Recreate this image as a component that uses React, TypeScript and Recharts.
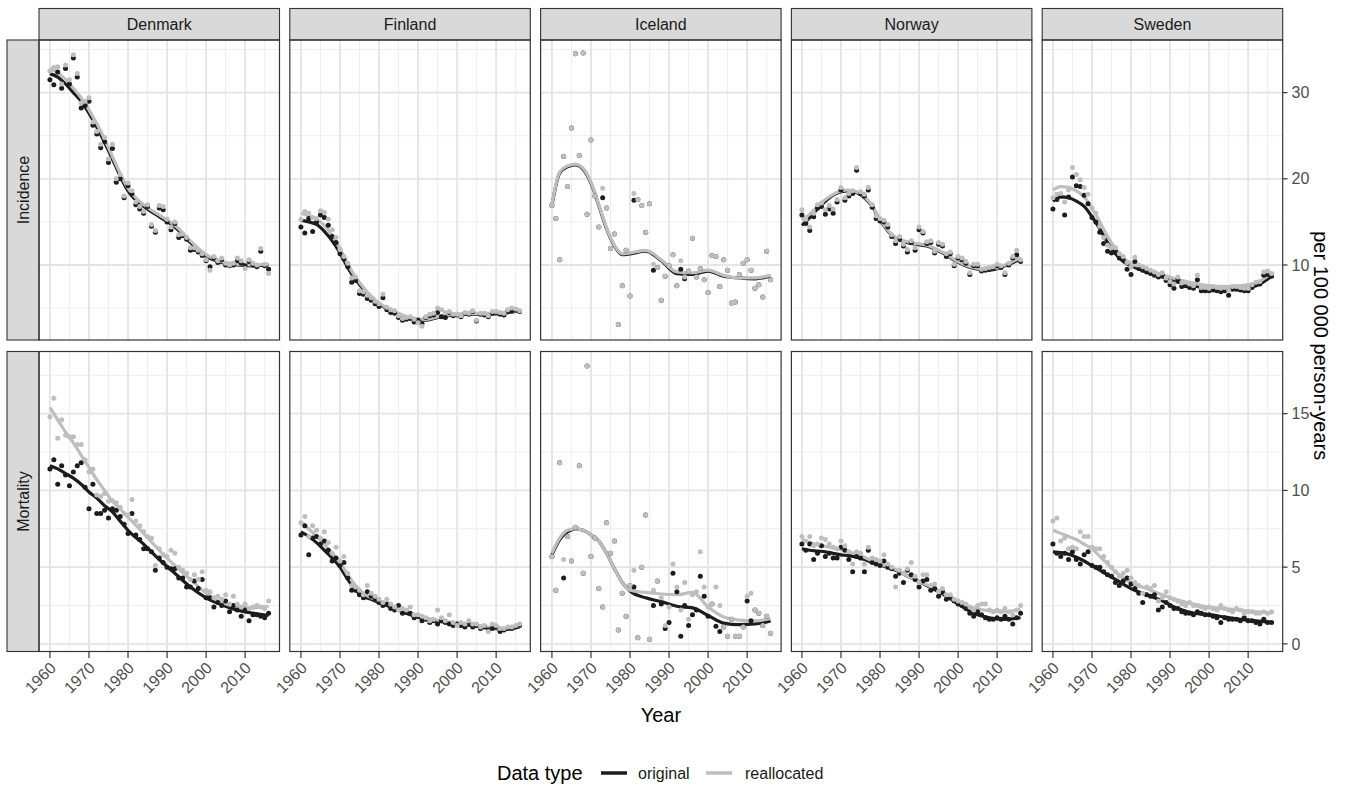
import React from 'react';
import { ComposedChart, Scatter, Line, XAxis, YAxis, ReferenceLine } from 'recharts';

// ---------- categories / ticks ----------
const years: number[] = Array.from({ length: 57 }, (_, i) => 1960 + i);
const smoothYears = [1960, 1962, 1964, 1966, 1968, 1970, 1972, 1974, 1976, 1978, 1980, 1984, 1988, 1992, 1996, 2000, 2004, 2008, 2012, 2016];
const countries = ['Denmark', 'Finland', 'Iceland', 'Norway', 'Sweden'];
const measures = ['Incidence', 'Mortality'];
const xMajorTicks = [1960, 1970, 1980, 1990, 2000, 2010];
const xMinorTicks = [1965, 1975, 1985, 1995, 2005, 2015];
const incTicks = [10, 20, 30];
const incMinor = [5, 15, 25, 35];
const mortTicks = [0, 5, 10, 15];
const mortMinor = [2.5, 7.5, 12.5, 17.5];
const legendLabels = ['original', 'reallocated'];

// ---------- Denmark ----------
const denmarkIncOrig = [31.5, 30.9, 32.4, 30.5, 32.8, 31.0, 34.0, 31.8, 28.2, 28.5, 29.0, 26.2, 25.2, 23.6, 24.3, 21.9, 23.5, 19.6, 20.0, 17.8, 19.2, 18.3, 17.0, 16.5, 16.0, 16.8, 14.5, 13.8, 16.6, 16.4, 15.0, 14.1, 14.8, 13.2, 13.4, 13.0, 11.7, 11.8, 11.5, 11.1, 10.5, 9.8, 10.8, 10.3, 10.6, 10.0, 9.9, 10.0, 10.5, 10.2, 9.9, 10.4, 10.0, 9.8, 11.6, 9.9, 9.5];
const denmarkIncRealloc = [32.5, 32.9, 33.0, 31.0, 33.2, 31.5, 34.4, 32.2, 28.8, 29.0, 29.4, 26.6, 25.5, 24.0, 24.8, 22.3, 24.0, 20.0, 20.5, 18.0, 19.5, 18.6, 17.3, 16.8, 16.2, 17.0, 14.7, 14.0, 16.9, 16.8, 15.3, 14.4, 15.0, 13.5, 13.6, 13.2, 12.0, 12.0, 11.7, 11.3, 10.6, 9.4, 11.0, 10.5, 10.8, 10.2, 10.0, 10.2, 10.8, 10.5, 9.6, 10.6, 10.2, 10.0, 11.9, 10.1, 9.0];
const denmarkIncSmoothOrig = [32.2, 31.8, 31.0, 30.0, 29.0, 27.6, 26.0, 24.2, 22.3, 20.3, 18.6, 16.8, 15.6, 14.4, 12.6, 11.0, 10.3, 10.0, 9.9, 10.0];
const denmarkIncSmoothRealloc = [32.8, 32.3, 31.5, 30.5, 29.4, 28.0, 26.4, 24.6, 22.6, 20.6, 18.9, 17.0, 15.8, 14.6, 12.8, 11.2, 10.4, 10.1, 10.0, 10.1];
const denmarkMortOrig = [11.4, 12.0, 10.4, 11.6, 11.0, 10.3, 11.2, 11.6, 11.8, 10.2, 8.8, 10.4, 8.5, 8.5, 8.7, 8.2, 8.8, 8.7, 8.3, 7.8, 7.2, 8.5, 7.1, 6.8, 6.2, 6.2, 6.0, 4.8, 5.6, 5.3, 5.0, 4.9, 4.9, 4.3, 4.3, 3.7, 3.7, 4.1, 3.6, 4.2, 3.0, 3.0, 2.4, 2.7, 2.5, 2.8, 2.1, 2.5, 2.2, 1.8, 2.2, 1.5, 1.9, 1.9, 1.8, 1.7, 2.0];
const denmarkMortRealloc = [14.8, 16.0, 13.4, 14.6, 13.6, 13.5, 13.5, 13.0, 13.0, 12.0, 11.2, 11.4, 9.7, 9.6, 9.8, 9.3, 9.35, 9.2, 8.9, 8.5, 8.4, 9.4, 8.0, 7.7, 7.3, 7.0, 6.9, 5.1, 6.2, 5.8, 5.7, 6.1, 5.9, 5.0, 4.8, 4.6, 4.2, 4.5, 4.2, 4.7, 3.5, 3.4, 3.0, 3.1, 2.9, 3.2, 2.6, 3.1, 2.6, 2.4, 2.6, 2.3, 2.4, 2.5, 2.4, 2.3, 2.8];
const denmarkMortSmoothOrig = [11.6, 11.4, 11.1, 10.8, 10.4, 9.9, 9.5, 9.0, 8.6, 8.0, 7.4, 6.5, 5.5, 4.6, 3.7, 3.0, 2.55, 2.2, 2.0, 1.85];
const denmarkMortSmoothRealloc = [15.4, 14.6, 13.8, 13.1, 12.3, 11.5, 10.7, 10.0, 9.3, 8.8, 8.25, 7.2, 6.1, 5.1, 4.2, 3.3, 2.7, 2.45, 2.35, 2.45];

// ---------- Finland ----------
const finlandIncOrig = [14.4, 13.7, 15.4, 13.9, 15.0, 15.8, 15.5, 14.6, 13.3, 12.6, 11.3, 10.7, 9.8, 8.0, 8.2, 6.7, 6.6, 6.1, 5.9, 5.5, 5.2, 6.2, 4.8, 4.5, 4.4, 3.9, 3.6, 3.7, 3.8, 3.4, 3.6, 3.2, 3.9, 4.1, 4.2, 4.5, 4.0, 3.9, 4.5, 4.1, 4.2, 4.0, 4.4, 4.3, 4.6, 3.5, 4.3, 4.2, 4.0, 4.4, 4.5, 4.3, 4.2, 4.6, 4.7, 4.8, 4.6];
const finlandIncRealloc = [15.3, 16.2, 16.0, 15.5, 15.4, 16.3, 16.1, 15.3, 14.1, 13.2, 11.8, 11.0, 10.2, 8.5, 8.6, 7.0, 6.9, 6.5, 6.2, 5.8, 5.5, 6.6, 5.1, 4.8, 4.7, 4.1, 3.8, 3.9, 4.0, 3.7, 3.3, 2.9, 4.0, 4.3, 4.4, 5.0, 4.8, 4.5, 4.6, 4.3, 4.3, 4.1, 4.5, 4.4, 4.7, 3.6, 4.4, 4.4, 4.1, 4.6, 4.6, 4.5, 4.4, 4.8, 5.0, 4.9, 4.7];
const finlandIncSmoothOrig = [15.2, 15.0, 14.7, 13.9, 12.8, 11.4, 9.7, 8.3, 7.2, 6.3, 5.5, 4.5, 3.8, 3.6, 4.0, 4.2, 4.3, 4.3, 4.4, 4.7];
const finlandIncSmoothRealloc = [16.0, 15.7, 15.3, 14.6, 13.4, 11.9, 10.1, 8.6, 7.4, 6.4, 5.6, 4.6, 3.9, 3.7, 4.1, 4.3, 4.4, 4.4, 4.5, 4.8];
const finlandMortOrig = [7.1, 7.7, 5.8, 6.9, 7.0, 6.5, 6.7, 6.1, 5.4, 5.6, 5.1, 5.3, 4.3, 3.5, 3.5, 3.2, 3.0, 3.4, 3.1, 2.9, 2.7, 2.5, 2.6, 2.3, 2.2, 2.5, 2.0, 2.1, 2.0, 1.7, 1.8, 1.5, 1.6, 1.4, 1.5, 1.3, 1.5, 1.4, 1.3, 1.2, 1.3, 1.2, 1.1, 1.3, 1.1, 1.2, 1.0, 1.1, 0.9, 1.0, 1.1, 0.8, 0.9, 1.0, 1.0, 1.1, 1.2];
const finlandMortRealloc = [7.9, 8.3, 7.0, 7.7, 7.4, 6.9, 7.3, 6.6, 5.9, 6.3, 5.4, 5.7, 4.6, 3.8, 3.7, 3.5, 3.2, 3.8, 3.3, 3.1, 2.9, 2.7, 2.9, 2.6, 2.4, 2.2, 2.3, 2.2, 2.4, 1.9, 1.9, 1.8, 1.7, 1.5, 1.6, 2.2, 1.7, 1.5, 1.9, 1.4, 1.2, 1.4, 1.3, 1.5, 1.3, 1.3, 1.1, 1.2, 0.8, 1.3, 1.2, 1.0, 1.0, 1.1, 1.1, 1.2, 1.3];
const finlandMortSmoothOrig = [7.3, 7.0, 6.6, 6.1, 5.6, 5.0, 4.2, 3.5, 3.1, 2.9, 2.7, 2.3, 1.9, 1.6, 1.45, 1.3, 1.2, 1.05, 0.95, 1.1];
const finlandMortSmoothRealloc = [7.9, 7.5, 7.0, 6.5, 5.9, 5.3, 4.5, 3.8, 3.3, 3.0, 2.8, 2.4, 2.0, 1.7, 1.5, 1.35, 1.25, 1.1, 1.0, 1.15];

// ---------- Iceland ----------
const icelandIncOrig = [16.9, 15.4, 10.6, 22.6, 19.1, 25.9, 34.5, 22.7, 34.6, 15.9, 24.5, 18.0, 14.4, 17.8, 16.6, 11.9, 13.6, 3.1, 7.6, 11.7, 6.4, 17.5, 17.6, 16.9, 13.8, 17.1, 9.4, 9.7, 5.9, 8.7, 9.9, 11.2, 7.6, 9.5, 8.4, 9.3, 13.1, 8.6, 9.6, 8.3, 6.8, 11.1, 11.0, 7.5, 10.6, 9.4, 5.6, 5.7, 8.9, 10.2, 10.6, 9.4, 7.3, 7.7, 6.3, 11.6, 8.3];
const icelandIncRealloc = [16.9, 15.4, 10.6, 22.6, 19.1, 25.9, 34.5, 22.7, 34.6, 15.9, 24.5, 18.0, 14.4, 18.9, 16.6, 11.9, 13.6, 3.1, 7.6, 11.7, 6.4, 18.3, 17.6, 16.9, 13.8, 17.1, 10.1, 9.7, 5.9, 8.7, 9.9, 11.2, 7.6, 10.5, 8.6, 9.3, 13.1, 8.6, 9.6, 8.3, 6.8, 11.1, 11.0, 7.5, 10.6, 9.4, 5.6, 5.7, 8.9, 10.2, 10.6, 9.4, 7.3, 7.7, 6.3, 11.6, 8.3];
const icelandIncSmoothOrig = [16.9, 20.7, 21.4, 21.6, 21.1, 19.5, 16.9, 14.2, 12.2, 11.2, 11.3, 11.6, 10.5, 9.0, 8.9, 9.3, 8.7, 8.5, 8.4, 8.7];
const icelandIncSmoothRealloc = [17.0, 20.8, 21.5, 21.7, 21.2, 19.6, 17.0, 14.3, 12.3, 11.3, 11.4, 11.7, 10.6, 9.2, 9.1, 9.4, 8.8, 8.5, 8.5, 8.8];
const icelandMortOrig = [5.7, 3.5, 11.8, 4.3, 7.0, 5.4, 7.6, 11.6, 4.6, 18.1, 5.7, 6.9, 3.6, 2.4, 7.9, 5.9, 6.7, 0.9, 3.3, 1.8, 3.8, 3.7, 0.4, 5.0, 8.4, 0.3, 2.5, 4.1, 2.6, 1.0, 1.4, 4.6, 3.4, 0.5, 2.5, 1.2, 1.9, 2.2, 4.4, 3.1, 1.8, 2.6, 1.15, 0.8, 1.1, 0.5, 1.6, 0.5, 0.5, 1.1, 2.8, 1.5, 2.2, 2.0, 1.2, 1.8, 0.7];
const icelandMortRealloc = [5.7, 3.5, 11.8, 5.5, 7.0, 5.4, 7.6, 11.6, 4.6, 18.1, 5.7, 6.9, 3.6, 2.4, 7.9, 5.9, 6.7, 0.9, 3.3, 1.8, 3.8, 4.8, 0.4, 5.0, 8.4, 0.3, 3.5, 4.1, 3.0, 1.2, 2.4, 5.2, 3.7, 2.2, 4.0, 1.6, 3.2, 3.4, 6.0, 3.7, 2.4, 2.6, 3.7, 2.5, 1.1, 0.5, 1.6, 0.5, 0.5, 1.1, 3.1, 3.3, 2.2, 2.0, 1.2, 1.8, 0.7];
const icelandMortSmoothOrig = [5.8, 6.8, 7.3, 7.5, 7.4, 7.1, 6.7, 5.9, 4.9, 4.0, 3.45, 3.0, 2.75, 2.45, 2.35, 1.85, 1.35, 1.25, 1.3, 1.5];
const icelandMortSmoothRealloc = [5.9, 6.9, 7.4, 7.5, 7.4, 7.1, 6.7, 5.9, 4.9, 4.0, 3.5, 3.35, 3.25, 3.2, 3.35, 2.4, 1.75, 1.55, 1.5, 1.65];

// ---------- Norway ----------
const norwayIncOrig = [15.8, 14.8, 14.0, 15.6, 16.6, 16.8, 15.9, 16.5, 16.0, 17.3, 18.7, 17.5, 18.0, 18.3, 21.0, 18.3, 18.0, 18.7, 16.7, 15.4, 15.1, 15.0, 14.4, 13.3, 12.5, 13.0, 12.2, 11.5, 12.6, 11.7, 14.1, 13.7, 12.5, 12.6, 11.4, 12.4, 12.2, 11.0, 11.3, 9.9, 10.8, 10.6, 10.2, 8.9, 9.9, 9.9, 9.3, 9.4, 9.5, 9.6, 9.9, 9.7, 8.9, 10.0, 10.8, 11.2, 10.4];
const norwayIncRealloc = [16.4, 15.3, 14.4, 16.0, 17.0, 17.2, 16.4, 16.9, 16.5, 17.6, 19.0, 17.8, 18.3, 18.6, 21.3, 18.5, 18.2, 19.0, 17.0, 15.7, 15.4, 15.2, 14.7, 13.5, 12.8, 13.3, 12.4, 11.8, 12.8, 12.0, 14.4, 13.9, 12.7, 12.8, 11.6, 12.6, 12.4, 11.3, 11.5, 10.1, 11.0, 10.8, 10.4, 9.1, 10.1, 10.1, 9.5, 9.6, 9.7, 9.8, 10.1, 9.9, 9.1, 10.2, 11.0, 11.7, 10.6];
const norwayIncSmoothOrig = [14.6, 15.5, 16.5, 17.4, 18.1, 18.5, 18.6, 18.4, 17.8, 16.8, 15.2, 13.1, 12.5, 12.2, 11.4, 10.3, 9.6, 9.4, 9.9, 10.7];
const norwayIncSmoothRealloc = [15.2, 15.9, 16.8, 17.6, 18.2, 18.6, 18.7, 18.5, 17.9, 16.9, 15.3, 13.2, 12.6, 12.3, 11.5, 10.4, 9.7, 9.5, 10.0, 10.9];
const norwayMortOrig = [6.5, 6.1, 6.5, 5.5, 5.9, 6.4, 5.7, 5.9, 5.6, 5.6, 6.3, 6.1, 5.5, 4.7, 5.7, 5.6, 4.7, 6.1, 5.3, 5.2, 5.1, 5.4, 5.0, 4.9, 4.4, 4.6, 4.0, 4.8, 4.5, 4.2, 3.7, 4.1, 4.2, 3.5, 3.6, 3.1, 3.4, 2.9, 3.0, 2.8, 2.6, 2.5, 2.3, 2.0, 1.8, 2.1, 1.9, 1.7, 1.6, 1.6, 1.7, 1.6, 1.8, 1.6, 1.3, 1.7, 2.0];
const norwayMortRealloc = [7.0, 6.7, 7.0, 6.4, 6.5, 6.9, 6.8, 6.5, 6.3, 6.2, 6.7, 6.4, 6.0, 5.2, 6.0, 5.9, 5.2, 6.3, 5.6, 5.5, 5.4, 5.8, 5.2, 5.0, 3.7, 4.8, 4.6, 4.9, 5.3, 4.4, 4.0, 4.5, 4.5, 3.8, 3.9, 3.4, 3.6, 3.2, 3.2, 2.9, 2.8, 2.7, 2.6, 2.4, 2.2, 2.5, 2.6, 2.6, 2.2, 2.1, 2.2, 2.1, 2.3, 2.1, 1.9, 2.2, 2.5];
const norwayMortSmoothOrig = [6.2, 6.1, 6.05, 6.0, 5.9, 5.8, 5.75, 5.65, 5.5, 5.3, 5.15, 4.8, 4.3, 3.8, 3.25, 2.6, 2.0, 1.7, 1.6, 1.7];
const norwayMortSmoothRealloc = [6.8, 6.6, 6.45, 6.35, 6.25, 6.15, 6.0, 5.85, 5.65, 5.4, 5.2, 4.85, 4.3, 3.85, 3.35, 2.7, 2.35, 2.15, 2.1, 2.25];

// ---------- Sweden ----------
const swedenIncOrig = [16.5, 17.6, 18.0, 15.8, 17.9, 20.2, 19.2, 19.1, 18.1, 17.1, 15.5, 15.0, 13.8, 12.5, 11.6, 11.4, 11.6, 10.8, 10.6, 9.5, 8.9, 10.4, 9.6, 9.4, 9.2, 9.0, 8.8, 8.6, 8.8, 8.2, 7.7, 7.3, 8.3, 7.5, 7.6, 7.4, 7.3, 8.3, 7.0, 7.0, 7.0, 7.1, 7.0, 6.9, 7.0, 6.5, 7.2, 7.2, 7.1, 7.0, 7.0, 7.4, 7.7, 7.8, 8.8, 8.9, 8.7];
const swedenIncRealloc = [17.8, 18.2, 18.3, 17.3, 18.7, 21.3, 20.5, 19.9, 19.0, 18.2, 16.6, 16.0, 14.5, 13.2, 12.3, 12.0, 12.0, 11.3, 11.0, 10.3, 9.8, 10.9, 10.0, 9.8, 9.6, 9.4, 9.2, 8.9, 9.1, 8.5, 8.1, 7.8, 8.6, 7.9, 8.0, 7.8, 7.6, 8.8, 7.4, 7.4, 7.3, 7.5, 7.4, 7.3, 7.4, 7.1, 7.5, 7.5, 7.4, 7.3, 7.3, 7.7, 8.0, 8.1, 9.2, 9.3, 9.0];
const swedenIncSmoothOrig = [17.4, 17.9, 17.8, 17.4, 16.8, 15.6, 14.2, 12.6, 11.3, 10.4, 9.9, 9.2, 8.6, 8.0, 7.6, 7.25, 7.2, 7.3, 7.6, 8.7];
const swedenIncSmoothRealloc = [18.7, 19.1, 19.0, 18.6, 17.9, 16.6, 15.0, 13.3, 11.9, 10.8, 10.2, 9.5, 8.9, 8.3, 7.9, 7.6, 7.5, 7.6, 7.9, 9.1];
const swedenMortOrig = [6.5, 5.9, 5.7, 5.9, 5.5, 6.0, 5.5, 5.2, 5.8, 6.0, 5.1, 5.0, 5.0, 4.7, 4.5, 4.4, 4.0, 3.8, 4.1, 4.3, 3.9, 3.6, 3.3, 2.7, 3.2, 3.1, 3.2, 2.2, 2.4, 2.7, 2.5, 2.3, 2.3, 2.1, 2.0, 2.0, 1.9, 2.1, 2.0, 1.9, 1.9, 1.8, 1.7, 1.4, 1.7, 1.6, 1.6, 1.6, 1.5, 1.7, 1.5, 1.5, 1.4, 1.3, 1.6, 1.4, 1.4];
const swedenMortRealloc = [8.0, 8.2, 6.7, 6.9, 6.2, 6.3, 6.2, 7.3, 7.0, 7.0, 6.3, 6.2, 6.2, 5.7, 5.3, 5.0, 4.7, 4.4, 4.6, 4.8, 4.3, 4.0, 3.8, 3.3, 3.7, 3.6, 3.8, 2.8, 3.0, 3.4, 3.0, 2.9, 2.8, 2.6, 2.5, 2.7, 2.5, 2.5, 2.4, 2.3, 2.4, 2.3, 2.2, 2.5, 2.3, 2.2, 2.1, 2.3, 2.2, 2.0, 2.1, 2.1, 2.0, 2.0, 2.1, 2.0, 2.1];
const swedenMortSmoothOrig = [6.0, 5.95, 5.85, 5.65, 5.4, 5.1, 4.8, 4.5, 4.2, 3.9, 3.6, 3.2, 2.8, 2.3, 2.0, 1.9, 1.75, 1.6, 1.5, 1.4];
const swedenMortSmoothRealloc = [7.4, 7.2, 7.0, 6.8, 6.5, 6.2, 5.7, 5.2, 4.7, 4.3, 4.0, 3.6, 3.2, 2.85, 2.6, 2.4, 2.3, 2.2, 2.1, 2.0];

// ---------- assembly ----------
type PanelData = { o: number[]; r: number[]; so: number[]; sr: number[] };
const panelRows: PanelData[][] = [
  [
    { o: denmarkIncOrig, r: denmarkIncRealloc, so: denmarkIncSmoothOrig, sr: denmarkIncSmoothRealloc },
    { o: finlandIncOrig, r: finlandIncRealloc, so: finlandIncSmoothOrig, sr: finlandIncSmoothRealloc },
    { o: icelandIncOrig, r: icelandIncRealloc, so: icelandIncSmoothOrig, sr: icelandIncSmoothRealloc },
    { o: norwayIncOrig, r: norwayIncRealloc, so: norwayIncSmoothOrig, sr: norwayIncSmoothRealloc },
    { o: swedenIncOrig, r: swedenIncRealloc, so: swedenIncSmoothOrig, sr: swedenIncSmoothRealloc },
  ],
  [
    { o: denmarkMortOrig, r: denmarkMortRealloc, so: denmarkMortSmoothOrig, sr: denmarkMortSmoothRealloc },
    { o: finlandMortOrig, r: finlandMortRealloc, so: finlandMortSmoothOrig, sr: finlandMortSmoothRealloc },
    { o: icelandMortOrig, r: icelandMortRealloc, so: icelandMortSmoothOrig, sr: icelandMortSmoothRealloc },
    { o: norwayMortOrig, r: norwayMortRealloc, so: norwayMortSmoothOrig, sr: norwayMortSmoothRealloc },
    { o: swedenMortOrig, r: swedenMortRealloc, so: swedenMortSmoothOrig, sr: swedenMortSmoothRealloc },
  ],
];

// ---------- layout / style ----------
const FONT = "'Liberation Sans', Arial, Helvetica, sans-serif";
const LEFT0 = 39;
const PITCH = 250.8;
const PW = 240.5;
const PH = 300;
const ROW_TOP = [40, 351.5];
const RAXIS_W = 45;
const BAXIS_H = 60;
const X_DOMAIN: [number, number] = [1957.2, 2018.8];
const Y_DOMAINS: [number, number][] = [[1.3, 36.1], [-0.53, 19.02]];
const C_ORIG = '#1c1c1c';
const C_REAL = '#bebebe';
const GRID_MAJOR = '#e4e4e4';
const GRID_MINOR = '#eeeeee';
const BORDER = '#333333';
const STRIP_FILL = '#d9d9d9';

const RotTick = (props: any) => {
  const { x, y, payload } = props;
  const ax = x + 7;
  const ay = y + 9;
  return (
    <text x={ax} y={ay} transform={`rotate(-45 ${ax} ${ay})`} textAnchor="end" fontSize={16} fill="#4d4d4d" fontFamily={FONT}>
      {payload.value}
    </text>
  );
};

const dot = (color: string) => (p: any) => <circle cx={p.cx} cy={p.cy} r={2.5} fill={color} />;

function Panel({ row, col, d }: { row: number; col: number; d: PanelData }) {
  const isBottom = row === 1;
  const isRight = col === 4;
  const w = PW + (isRight ? RAXIS_W : 0);
  const h = PH + (isBottom ? BAXIS_H : 0);
  const majorY = row === 0 ? incTicks : mortTicks;
  const minorY = row === 0 ? incMinor : mortMinor;
  const pts = (arr: number[]) => years.map((y, i) => ({ year: y, v: arr[i] }));
  const sm = (arr: number[]) => smoothYears.map((y, i) => ({ year: y, v: arr[i] }));
  return (
    <div style={{ position: 'absolute', left: LEFT0 + col * PITCH, top: ROW_TOP[row] }}>
      <ComposedChart width={w} height={h} margin={{ top: 0, right: 0, bottom: 0, left: 0 }}>
        <XAxis
          type="number"
          dataKey="year"
          domain={X_DOMAIN}
          allowDataOverflow
          ticks={xMajorTicks}
          interval={0}
          hide={!isBottom}
          height={BAXIS_H}
          axisLine={false}
          tickLine={{ stroke: BORDER, strokeWidth: 1.2 }}
          tickSize={6}
          tick={<RotTick />}
        />
        <YAxis
          type="number"
          dataKey="v"
          domain={Y_DOMAINS[row]}
          allowDataOverflow
          orientation="right"
          ticks={majorY}
          interval={0}
          hide={!isRight}
          width={RAXIS_W}
          axisLine={false}
          tickLine={{ stroke: BORDER, strokeWidth: 1.2 }}
          tickSize={5}
          tickMargin={4}
          tick={{ fontSize: 16, fill: '#4d4d4d', fontFamily: FONT }}
        />
        {minorY.map((v) => (
          <ReferenceLine key={'my' + v} y={v} stroke={GRID_MINOR} strokeWidth={1} />
        ))}
        {xMinorTicks.map((v) => (
          <ReferenceLine key={'mx' + v} x={v} stroke={GRID_MINOR} strokeWidth={1} />
        ))}
        {majorY.map((v) => (
          <ReferenceLine key={'My' + v} y={v} stroke={GRID_MAJOR} strokeWidth={1.8} />
        ))}
        {xMajorTicks.map((v) => (
          <ReferenceLine key={'Mx' + v} x={v} stroke={GRID_MAJOR} strokeWidth={1.8} />
        ))}
        <Scatter name="original" data={pts(d.o)} shape={dot(C_ORIG)} isAnimationActive={false} />
        <Scatter name="reallocated" data={pts(d.r)} shape={dot(C_REAL)} isAnimationActive={false} />
        <Line data={sm(d.so)} dataKey="v" type="monotone" stroke={C_ORIG} strokeWidth={3.2} dot={false} activeDot={false} isAnimationActive={false} />
        <Line data={sm(d.sr)} dataKey="v" type="monotone" stroke={C_REAL} strokeWidth={3.2} dot={false} activeDot={false} isAnimationActive={false} />
      </ComposedChart>
    </div>
  );
}

export default function App() {
  const panelsRight = LEFT0 + 4 * PITCH + PW;
  const centerX = (LEFT0 + panelsRight) / 2;
  const centerY = (ROW_TOP[0] + ROW_TOP[1] + PH) / 2;
  return (
    <div style={{ position: 'absolute', left: 0, top: 0, width: 1345, height: 786, background: '#fff', fontFamily: FONT }}>
      <style>{`.recharts-surface{overflow:visible}`}</style>
      {panelRows.map((r, ri) => r.map((d, ci) => <Panel key={ri + '-' + ci} row={ri} col={ci} d={d} />))}
      <svg width={1345} height={786} style={{ position: 'absolute', left: 0, top: 0, pointerEvents: 'none', overflow: 'visible' }}>
        {countries.map((c, i) => {
          const x = LEFT0 + i * PITCH;
          return (
            <g key={c}>
              <rect x={x} y={8.5} width={PW} height={31.5} fill={STRIP_FILL} stroke={BORDER} strokeWidth={1.1} />
              <text x={x + PW / 2} y={30} textAnchor="middle" fontSize={16} fill="#1a1a1a" fontFamily={FONT}>{c}</text>
            </g>
          );
        })}
        {measures.map((m, i) => {
          const y = ROW_TOP[i];
          return (
            <g key={m}>
              <rect x={7} y={y} width={32} height={PH} fill={STRIP_FILL} stroke={BORDER} strokeWidth={1.1} />
              <text x={29} y={y + PH / 2} transform={`rotate(-90 29 ${y + PH / 2})`} textAnchor="middle" fontSize={16} fill="#1a1a1a" fontFamily={FONT}>{m}</text>
            </g>
          );
        })}
        {panelRows.map((r, ri) =>
          r.map((_, ci) => (
            <rect key={'b' + ri + ci} x={LEFT0 + ci * PITCH} y={ROW_TOP[ri]} width={PW} height={PH} fill="none" stroke={BORDER} strokeWidth={1.2} />
          ))
        )}
        <text x={centerX} y={722} textAnchor="middle" fontSize={20} fill="#000" fontFamily={FONT}>Year</text>
        <text x={1314} y={centerY} transform={`rotate(90 1314 ${centerY})`} textAnchor="middle" fontSize={20} fill="#000" fontFamily={FONT}>per 100 000 person-years</text>
        <text x={497} y={780} fontSize={20} fill="#000" fontFamily={FONT}>Data type</text>
        <line x1={601} x2={627} y1={773} y2={773} stroke={C_ORIG} strokeWidth={3.5} />
        <text x={638} y={779} fontSize={16} fill="#1a1a1a" fontFamily={FONT}>{legendLabels[0]}</text>
        <line x1={706} x2={732} y1={773} y2={773} stroke={C_REAL} strokeWidth={3.5} />
        <text x={745} y={779} fontSize={16} fill="#1a1a1a" fontFamily={FONT}>{legendLabels[1]}</text>
      </svg>
    </div>
  );
}
